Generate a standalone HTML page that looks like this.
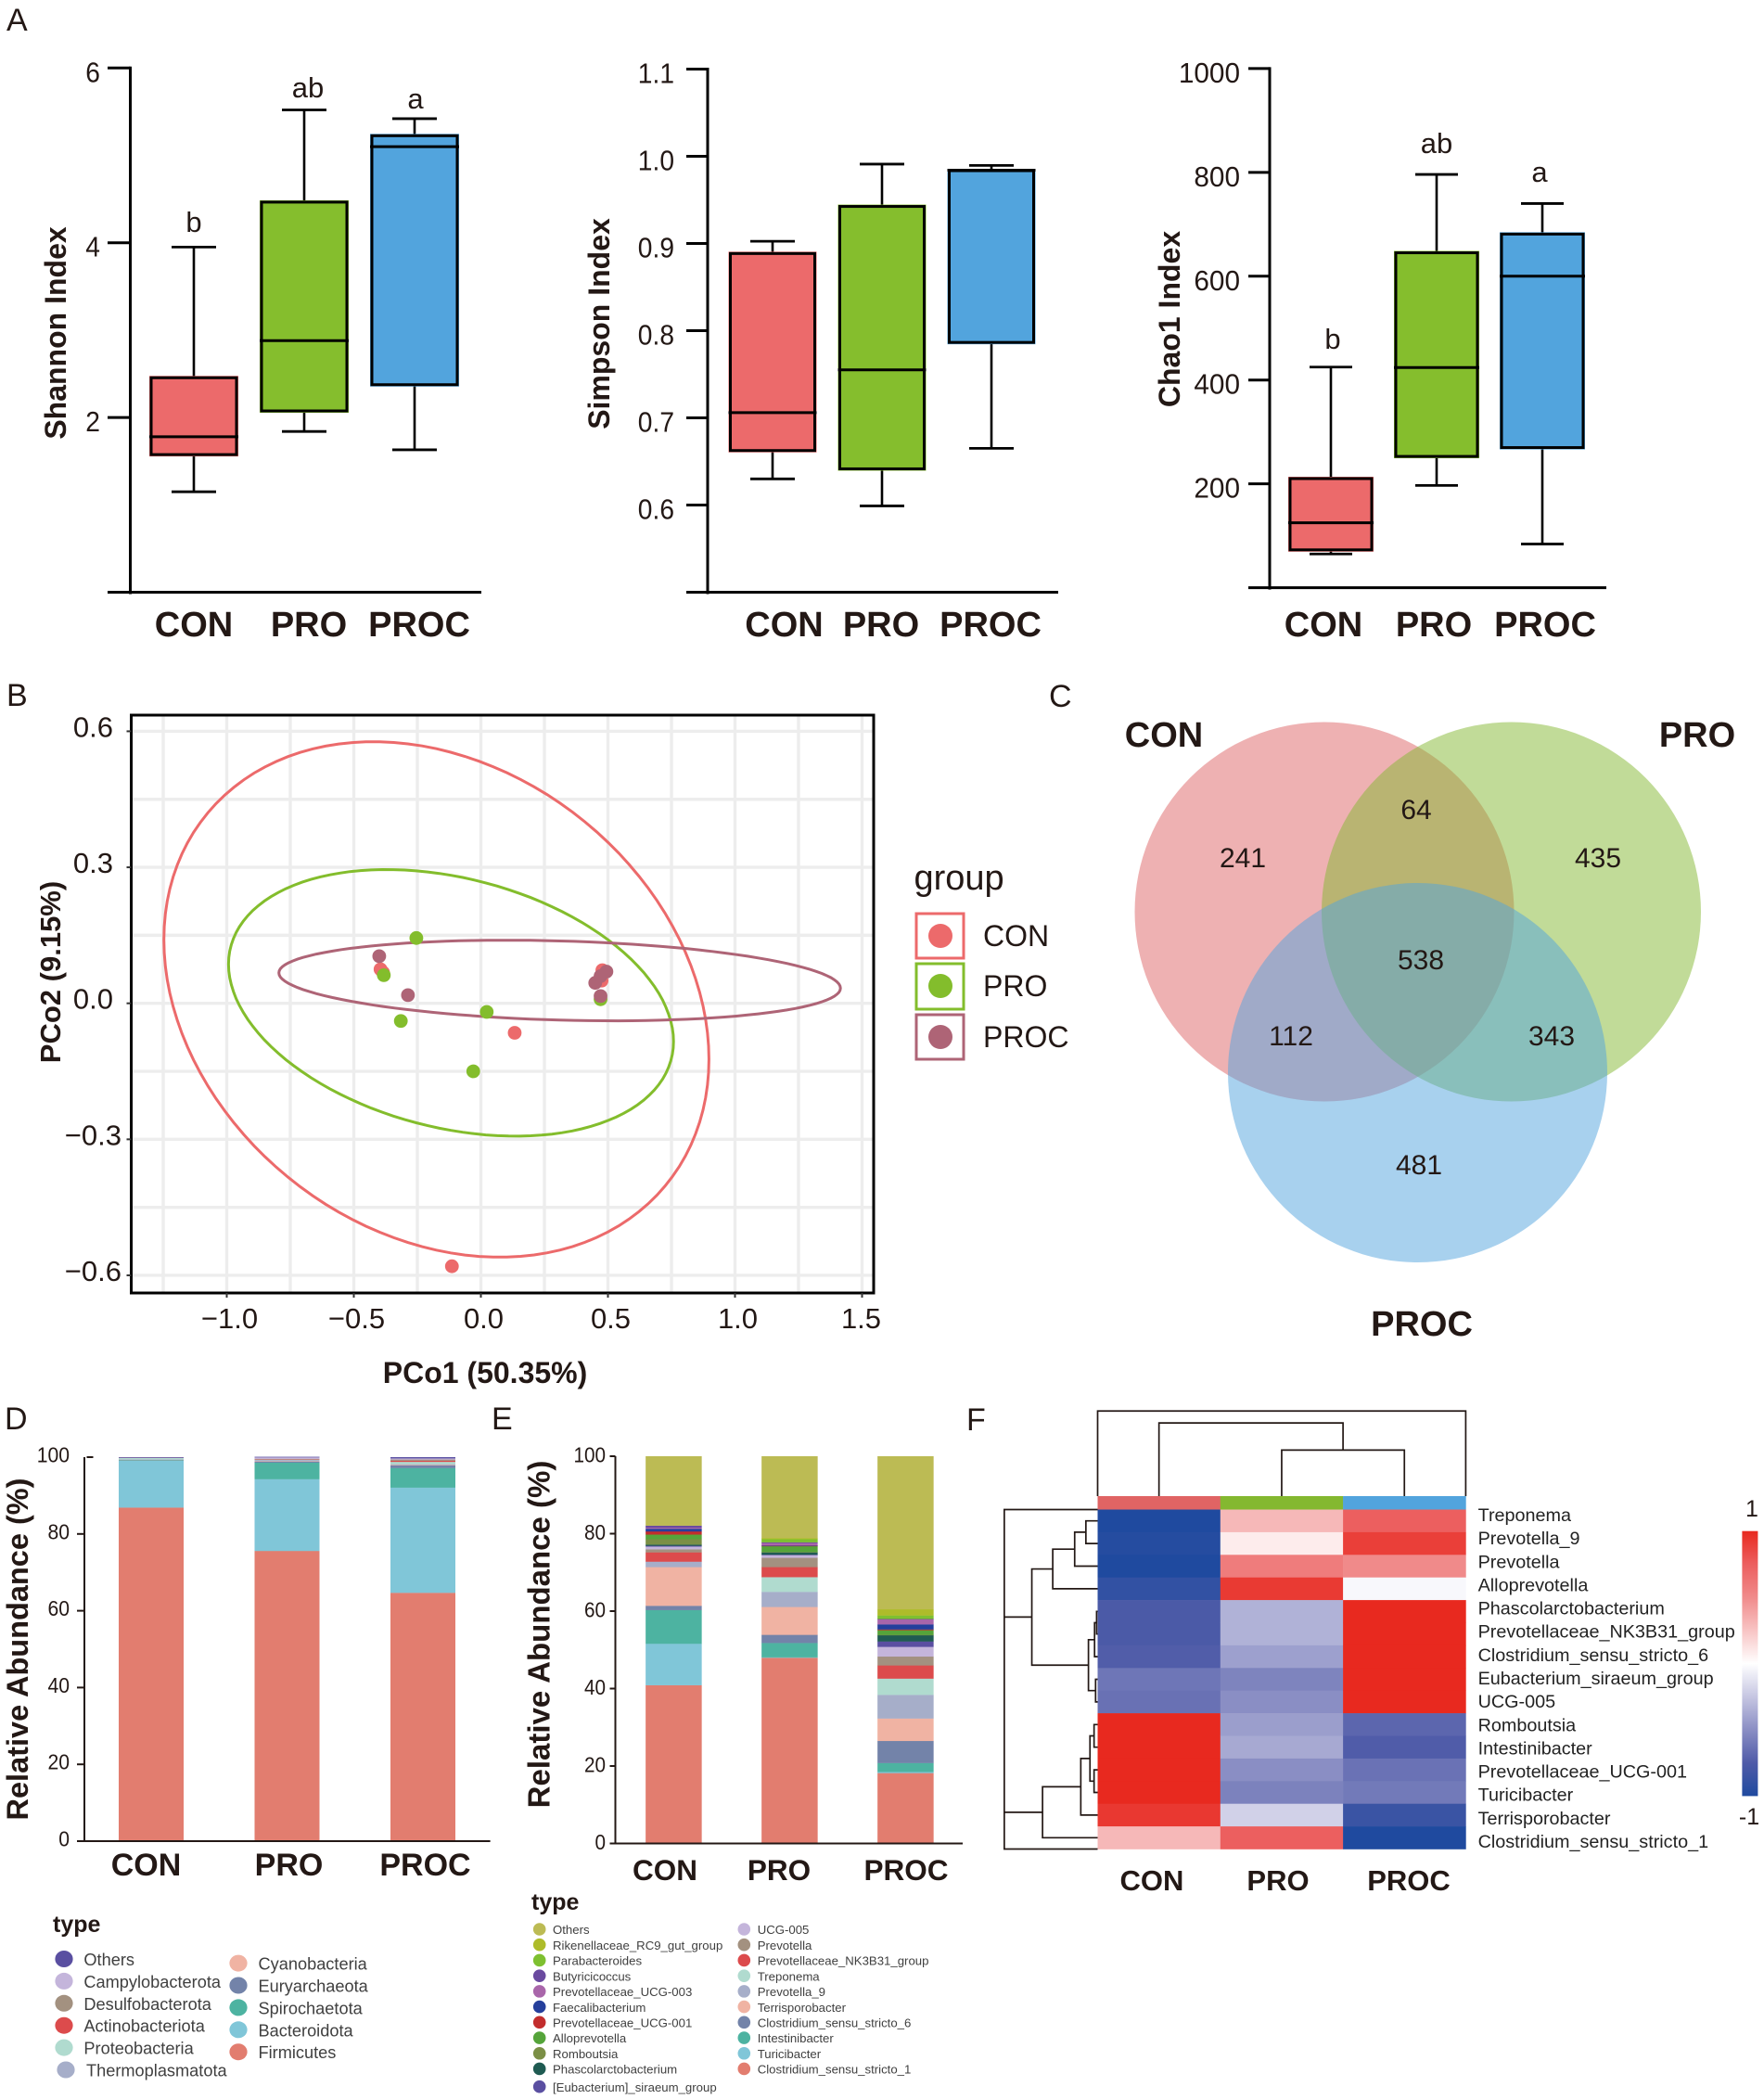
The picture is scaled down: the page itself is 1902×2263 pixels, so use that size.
<!DOCTYPE html>
<html lang="en">
<head>
<meta charset="utf-8">
<title>Gut microbiota diversity and composition figure</title>
<style>
html,body{margin:0;padding:0;background:#fff}
svg{display:block;font-family:"Liberation Sans",Arial,sans-serif}
text{fill:#231815}
</style>
</head>
<body>
<svg id="figure" xmlns="http://www.w3.org/2000/svg" width="1902" height="2263" viewBox="0 0 1902 2263">
<rect width="1902" height="2263" fill="#fff"/>

<g font-size="34">
<text x="7" y="33">A</text>
<text x="7" y="761">B</text>
<text x="1131" y="762">C</text>
<text x="5" y="1541">D</text>
<text x="530" y="1541">E</text>
<text x="1042" y="1542">F</text>
</g>

<g id="shannon">
<text transform="translate(71,359) rotate(-90)" text-anchor="middle" font-size="32" font-weight="bold">Shannon Index</text>
<g font-size="38" font-weight="bold" text-anchor="middle">
<text x="209" y="686">CON</text>
<text x="333" y="686">PRO</text>
<text x="452" y="686">PROC</text>
</g>
<g font-size="31" text-anchor="middle">
<text x="209" y="250">b</text>
<text x="332" y="105">ab</text>
<text x="448" y="117">a</text>
</g>
</g>

<g id="simpson">
<text transform="translate(657,349) rotate(-90)" text-anchor="middle" font-size="32" font-weight="bold">Simpson Index</text>
<g font-size="38" font-weight="bold" text-anchor="middle">
<text x="845.5" y="686">CON</text>
<text x="950" y="686">PRO</text>
<text x="1068" y="686">PROC</text>
</g>
</g>

<g id="chao">
<text transform="translate(1272,344) rotate(-90)" text-anchor="middle" font-size="32" font-weight="bold">Chao1 Index</text>
<g font-size="38" font-weight="bold" text-anchor="middle">
<text x="1427" y="686">CON</text>
<text x="1546" y="686">PRO</text>
<text x="1666" y="686">PROC</text>
</g>
<g font-size="31" text-anchor="middle">
<text x="1437" y="376">b</text>
<text x="1549" y="165">ab</text>
<text x="1660" y="196">a</text>
</g>
</g>

<g id="pcoa"></g>
<g font-weight="bold" text-anchor="middle">
<text x="523" y="1491" font-size="32">PCo1 (50.35%)</text>
<text transform="translate(65,1048) rotate(-90)" font-size="31">PCo2 (9.15%)</text>
</g>
<g>
<text x="985.5" y="959" font-size="38">group</text>
<rect x="988" y="985" width="51" height="48" fill="#fff" stroke="#ec6a6b" stroke-width="3"/>
<circle cx="1014" cy="1009" r="13" fill="#ec6a6b"/>
<text x="1060" y="1020" font-size="32">CON</text>
<rect x="988" y="1039" width="51" height="49" fill="#fff" stroke="#83bd2c" stroke-width="3"/>
<circle cx="1014" cy="1063" r="13" fill="#83bd2c"/>
<text x="1060" y="1074" font-size="32">PRO</text>
<rect x="988" y="1094" width="51" height="48" fill="#fff" stroke="#ae6476" stroke-width="3"/>
<circle cx="1014" cy="1118" r="13" fill="#ae6476"/>
<text x="1060" y="1129" font-size="32">PROC</text>
</g>

<g>
<circle cx="1428" cy="983" r="204.5" fill="#dd6366" fill-opacity="0.5"/>
<circle cx="1629.5" cy="983" r="204.5" fill="#83b732" fill-opacity="0.5"/>
<circle cx="1528.5" cy="1156.5" r="204.5" fill="#51a3dd" fill-opacity="0.5"/>
<g font-size="38" font-weight="bold" text-anchor="middle">
<text x="1255" y="805">CON</text>
<text x="1830" y="805">PRO</text>
<text x="1533" y="1440">PROC</text>
</g>
<g font-size="30" text-anchor="middle">
<text x="1340" y="935">241</text>
<text x="1527" y="883">64</text>
<text x="1723" y="935">435</text>
<text x="1532" y="1045">538</text>
<text x="1392" y="1127">112</text>
<text x="1673" y="1127">343</text>
<text x="1530" y="1266">481</text>
</g>
</g>

<g id="phylum">
<text transform="translate(30,1778) rotate(-90)" text-anchor="middle" font-size="32.5" font-weight="bold">Relative Abundance (%)</text>
<g font-size="34" font-weight="bold" text-anchor="middle">
<text x="157.5" y="2022">CON</text>
<text x="311.5" y="2022">PRO</text>
<text x="458.5" y="2022">PROC</text>
</g>
<text x="57" y="2083" font-size="25" font-weight="bold">type</text>
</g>

<g id="genus">
<text transform="translate(592.5,1762) rotate(-90)" text-anchor="middle" font-size="33" font-weight="bold">Relative Abundance (%)</text>
<g font-size="31.5" font-weight="bold" text-anchor="middle">
<text x="717" y="2027">CON</text>
<text x="840" y="2027">PRO</text>
<text x="977" y="2027">PROC</text>
</g>
<text x="573" y="2059" font-size="25" font-weight="bold">type</text>
</g>

<g id="heatmap">
<g font-size="31" font-weight="bold" text-anchor="middle">
<text x="1242" y="2038">CON</text>
<text x="1378" y="2038">PRO</text>
<text x="1519" y="2038">PROC</text>
</g>
<text x="1889" y="1635" font-size="25" text-anchor="middle">1</text>
<text x="1886" y="1967" font-size="25" text-anchor="middle">-1</text>
</g>
</svg>

<script>
/* ---------- boxplot data ---------- */
const boxGroups = ['con', 'pro', 'proc'];
const boxColors = ['#ec6a6b', '#85be2d', '#52a4dd'];
const shannonTicks = [2, 4, 6];
const shannonLow = [1.15, 1.84, 1.63];
const shannonQ1 = [1.57, 2.07, 2.37];
const shannonMedian = [1.78, 2.88, 5.10];
const shannonQ3 = [2.46, 4.47, 5.23];
const shannonHigh = [3.95, 5.52, 5.42];
const simpsonTicks = [0.6, 0.7, 0.8, 0.9, 1.0, 1.1];
const simpsonLow = [0.630, 0.599, 0.665];
const simpsonQ1 = [0.662, 0.641, 0.786];
const simpsonMedian = [0.706, 0.755, 0.984];
const simpsonQ3 = [0.889, 0.943, 0.984];
const simpsonHigh = [0.9025, 0.991, 0.9895];
const chaoTicks = [200, 400, 600, 800, 1000];
const chaoLow = [65, 197, 84];
const chaoQ1 = [72, 252, 269];
const chaoMedian = [125, 424, 600];
const chaoQ3 = [211, 646, 682];
const chaoHigh = [425, 796, 740];

/* ---------- PCoA data ---------- */
const pcoaXTicks = [-1, -0.5, 0, 0.5, 1, 1.5];
const pcoaYTicks = [-0.6, -0.3, 0, 0.3, 0.6];
const pcoaXMinor = [-1.25, -0.75, -0.25, 0.25, 0.75, 1.25];
const pcoaYMinor = [-0.45, -0.15, 0.15, 0.45];
const conX = [-0.395, -0.385, 0.133, -0.114, 0.478, 0.475];
const conY = [0.075, 0.068, -0.065, -0.58, 0.073, 0.05];
const proX = [-0.254, -0.382, -0.315, 0.023, -0.03, 0.471];
const proY = [0.144, 0.062, -0.039, -0.019, -0.15, 0.009];
const procX = [-0.40, -0.287, 0.45, 0.471, 0.494, 0.471];
const procY = [0.104, 0.018, 0.045, 0.016, 0.07, 0.06];
const ellipseCenterX = [-0.175, -0.1175, 0.31];
const ellipseCenterY = [0.0085, 0.001, 0.0503];
const ellipseHalfX = [1.0725, 0.8755, 1.105];
const ellipseHalfY = [0.5685, 0.294, 0.0889];
const ellipseCorr = [-0.232, -0.29, -0.19];

/* ---------- phylum stacked data (bottom to top) ---------- */
const phylumNames = ['Firmicutes', 'Bacteroidota', 'Spirochaetota', 'Euryarchaeota', 'Cyanobacteria', 'Thermoplasmatota', 'Proteobacteria', 'Actinobacteriota', 'Desulfobacterota', 'Campylobacterota', 'Others'];
const phylumColors = ['#e27d6f', '#80c6d8', '#4db3a1', '#7383a9', '#f0b3a3', '#a6aec9', '#b0dbcf', '#dc4b4c', '#a39180', '#c4b5db', '#5a4fa1'];
const phylumCon = [86.9, 12.2, 0.2, 0.05, 0.05, 0.05, 0.5, 0.02, 0.01, 0.01, 0.01];
const phylumPro = [75.6, 18.7, 4.3, 0.3, 0.1, 0.3, 0.1, 0.1, 0.1, 0.4, 0.1];
const phylumProc = [64.7, 27.4, 5.1, 0.7, 0.1, 0.2, 0.6, 0.3, 0.3, 0.3, 0.3];
const phylumTicks = [0, 20, 40, 60, 80, 100];

/* ---------- genus stacked data (bottom to top) ---------- */
const genusNames = ['Clostridium_sensu_stricto_1', 'Turicibacter', 'Intestinibacter', 'Clostridium_sensu_stricto_6', 'Terrisporobacter', 'Prevotella_9', 'Treponema', 'Prevotellaceae_NK3B31_group', 'Prevotella', 'UCG-005', '[Eubacterium]_siraeum_group', 'Phascolarctobacterium', 'Romboutsia', 'Alloprevotella', 'Prevotellaceae_UCG-001', 'Faecalibacterium', 'Prevotellaceae_UCG-003', 'Butyricicoccus', 'Parabacteroides', 'Rikenellaceae_RC9_gut_group', 'Others'];
const genusColors = ['#e27d6f', '#80c6d8', '#4db3a1', '#7383a9', '#f0b3a3', '#a6aec9', '#b0dbcf', '#dc4b4c', '#a39180', '#c4b5db', '#5a4fa1', '#1f5b52', '#7b8f46', '#55a43a', '#c22d2d', '#253f9c', '#a966aa', '#6a4a9f', '#7ec030', '#aebc2a', '#bcbb54'];
const genusCon = [40.9, 10.7, 8.7, 1.1, 10.0, 1.4, 0, 2.4, 0.8, 0.7, 0.2, 0.3, 1.4, 1.2, 0.8, 0.7, 0.3, 0.5, 0, 0, 17.9];
const genusPro = [48.0, 0.1, 3.7, 2.1, 7.2, 3.9, 3.8, 2.6, 2.4, 0.7, 0.1, 0.6, 0.1, 1.5, 0.1, 0.1, 0.6, 0.2, 0.8, 0.3, 21.1];
const genusProc = [18.2, 0.3, 2.3, 5.7, 5.8, 6.1, 4.2, 3.4, 2.3, 2.5, 1.4, 1.6, 0.1, 1.2, 0.2, 1.3, 1.3, 0.1, 0.9, 1.6, 39.5];
const genusTicks = [0, 20, 40, 60, 80, 100];

/* ---------- heatmap data ---------- */
const heatRows = ['Treponema', 'Prevotella_9', 'Prevotella', 'Alloprevotella', 'Phascolarctobacterium', 'Prevotellaceae_NK3B31_group', 'Clostridium_sensu_stricto_6', 'Eubacterium_siraeum_group', 'UCG-005', 'Romboutsia', 'Intestinibacter', 'Prevotellaceae_UCG-001', 'Turicibacter', 'Terrisporobacter', 'Clostridium_sensu_stricto_1'];
const heatCon = [-1, -0.97, -1, -0.9, -0.77, -0.77, -0.74, -0.62, -0.64, 1, 1, 1, 1, 0.93, 0.3];
const heatPro = [0.3, 0.08, 0.58, 0.92, -0.34, -0.34, -0.42, -0.55, -0.5, -0.43, -0.38, -0.5, -0.56, -0.2, 0.75];
const heatProc = [0.75, 0.9, 0.5, -0.03, 1, 1, 1, 1, 1, -0.695, -0.745, -0.635, -0.6, -0.86, -1];
const heatStopValues = [-1, -0.75, -0.5, -0.25, 0, 0.25, 0.5, 0.75, 1];
const heatStopColors = ['#1f4a9f', '#4f5ba8', '#8a8ec4', '#c6c6e2', '#ffffff', '#f8c4c4', '#f08a8a', '#ec5f5f', '#e8291f'];
const annotationColors = ['#e06464', '#84b830', '#52a4dd'];
const rowTree = [183, [129, [88, [45, [23, 0, 1], 2], 3], [18, [6, [2, 4, 5], 6], [4, 7, 8]]], [108, [33, [15, [7, 9, 10], [7, 11, 12]], 13], 14]];
const colTree = [221, 0, [139, 1, 2]];

/* ---------- helpers ---------- */
const NS = 'http://www.w3.org/2000/svg';
function el(tag, parent, attrs) {
  const e = document.createElementNS(NS, tag);
  for (const k in attrs) e.setAttribute(k, attrs[k]);
  parent.appendChild(e);
  return e;
}
function label(parent, x, y, str, size, anchor, fill) {
  const t = el('text', parent, { x: x, y: y, 'font-size': size, 'text-anchor': anchor || 'start' });
  if (fill) t.style.fill = fill;
  t.textContent = str;
  return t;
}
function squeezedLabel(parent, x, y, str, size, sx) {
  const t = el('text', parent, { transform: 'translate(' + x + ',' + y + ') scale(' + sx + ',1)', 'font-size': size, 'text-anchor': 'end' });
  t.textContent = str;
  return t;
}
function hexRgb(h) {
  return [parseInt(h.substr(1, 2), 16), parseInt(h.substr(3, 2), 16), parseInt(h.substr(5, 2), 16)];
}
function heatColor(v) {
  let i = 0;
  while (i < heatStopValues.length - 2 && v > heatStopValues[i + 1]) i++;
  const a = hexRgb(heatStopColors[i]), b = hexRgb(heatStopColors[i + 1]);
  const t = (v - heatStopValues[i]) / (heatStopValues[i + 1] - heatStopValues[i]);
  return 'rgb(' + a.map((c, k) => Math.round(c + (b[k] - c) * t)).join(',') + ')';
}

/* ---------- boxplots ---------- */
function drawBoxplot(id, prefix, cfg, ticks, tickLabels, low, q1, med, q3, high) {
  const root = document.getElementById(id);
  const y = v => cfg.y0 - (v - cfg.min) * cfg.k;
  const x = i => cfg.x0 + i * cfg.step;
  const xAxis = el('line', root, { x1: cfg.axisL, x2: cfg.axisR, y1: y(cfg.min), y2: y(cfg.min), stroke: '#000', 'stroke-width': 3 });
  
  
  const yAxis = el('line', root, { x1: cfg.axisX, x2: cfg.axisX, y1: y(ticks[ticks.length - 1]) - 1.5, y2: y(cfg.min) + 2, stroke: '#000', 'stroke-width': 3 });
  
  
  ticks.forEach((t, i) => {
    const m = el('line', root, { x1: cfg.axisL, x2: cfg.axisX, y1: y(t), y2: y(t), stroke: '#000', 'stroke-width': 3 });
    
    
    const l = squeezedLabel(root, cfg.labelR, y(t) + 15, tickLabels[i], cfg.tickSize, cfg.tickSx);
    
    
  });
  boxGroups.forEach((g, i) => {
    const cx = x(i), w = cfg.w;
    const box = el('g', root, {});
    
    
    el('line', box, { x1: cx, x2: cx, y1: y(high[i]), y2: y(low[i]), stroke: '#000', 'stroke-width': 2.6 });
    el('line', box, { x1: cx - cfg.cap, x2: cx + cfg.cap, y1: y(high[i]), y2: y(high[i]), stroke: '#000', 'stroke-width': 2.8 });
    el('line', box, { x1: cx - cfg.cap, x2: cx + cfg.cap, y1: y(low[i]), y2: y(low[i]), stroke: '#000', 'stroke-width': 2.8 });
    el('rect', box, { x: cx - w / 2, y: y(q3[i]) - 1.5, width: w, height: y(q1[i]) - y(q3[i]) + 3, fill: boxColors[i] });
    el('rect', box, { x: cx - w / 2 + 2, y: y(q3[i]) + 0.5, width: w - 4, height: y(q1[i]) - y(q3[i]) - 1, fill: 'none', stroke: '#000', 'stroke-width': 3 });
    el('line', box, { x1: cx - w / 2, x2: cx + w / 2, y1: y(med[i]), y2: y(med[i]), stroke: '#000', 'stroke-width': 3 });
  });
}
drawBoxplot('shannon', 'shannon', { y0: 638.5, min: 0, k: 94.2, x0: 209, step: 119, w: 96, cap: 24, axisX: 140.5, axisL: 116, axisR: 519, labelR: 108, tickSize: 31, tickSx: 0.91 },
  shannonTicks, shannonTicks.map(String), shannonLow, shannonQ1, shannonMedian, shannonQ3, shannonHigh);
drawBoxplot('simpson', 'simpson', { y0: 638.5, min: 0.5, k: 940, x0: 833, step: 118, w: 95, cap: 24, axisX: 763, axisL: 740, axisR: 1141, labelR: 727, tickSize: 31, tickSx: 0.91 },
  simpsonTicks, simpsonTicks.map(v => v.toFixed(1)), simpsonLow, simpsonQ1, simpsonMedian, simpsonQ3, simpsonHigh);
drawBoxplot('chao', 'chao1', { y0: 633.6, min: 0, k: 0.5597, x0: 1435, step: 114, w: 92, cap: 23, axisX: 1369, axisL: 1346, axisR: 1732, labelR: 1337, tickSize: 31, tickSx: 0.96 },
  chaoTicks, chaoTicks.map(String), chaoLow, chaoQ1, chaoMedian, chaoQ3, chaoHigh);

/* ---------- PCoA ---------- */
(function () {
  const root = document.getElementById('pcoa');
  const px = v => 518.5 + 274 * v;
  const py = v => 1081.7 - 488.8 * v;
  const L = 141.5, R = 942, T = 771, B = 1394;
  pcoaXMinor.concat(pcoaXTicks).forEach(v => {
    const g = el('line', root, { x1: px(v), x2: px(v), y1: T, y2: B, stroke: '#ededed', 'stroke-width': 3.4 });
    
    
  });
  pcoaYMinor.concat(pcoaYTicks).forEach(v => {
    const g = el('line', root, { x1: L, x2: R, y1: py(v), y2: py(v), stroke: '#ededed', 'stroke-width': 3.4 });
    
    
  });
  const colors = ['#ec6a6b', '#83bd2c', '#ae6476'];
  const names = ['con', 'pro', 'proc'];
  names.forEach((n, i) => {
    const pts = [];
    const delta = Math.acos(ellipseCorr[i]);
    for (let s = 0; s < 120; s++) {
      const t = s / 120 * 2 * Math.PI;
      const dx = ellipseCenterX[i] + ellipseHalfX[i] * Math.cos(t);
      const dy = ellipseCenterY[i] + ellipseHalfY[i] * Math.cos(t - delta);
      pts.push(px(dx).toFixed(1) + ',' + py(dy).toFixed(1));
    }
    const e = el('polygon', root, { points: pts.join(' '), fill: 'none', stroke: colors[i], 'stroke-width': 3 });
    
    
  });
  [[conX, conY], [proX, proY], [procX, procY]].forEach((s, i) => {
    s[0].forEach((v, j) => {
      const c = el('circle', root, { cx: px(v), cy: py(s[1][j]), r: 7.4, fill: colors[i] });
      
      
    });
  });
  const frame = el('rect', root, { x: L, y: T, width: R - L, height: B - T, fill: 'none', stroke: '#000', 'stroke-width': 3 });
  
  
  const fmt = v => (v < 0 ? '\u2212' : '') + Math.abs(v).toFixed(1);
  pcoaXTicks.forEach(v => {
    const m = el('line', root, { x1: px(v), x2: px(v), y1: B, y2: B + 5, stroke: '#333', 'stroke-width': 2 });
    
    
    const l = label(root, px(v) + (v === 1.5 ? -1 : 3), 1432, fmt(v), 31, 'middle');
    
    
  });
  pcoaYTicks.forEach(v => {
    const m = el('line', root, { x1: L - 5, x2: L, y1: py(v), y2: py(v), stroke: '#333', 'stroke-width': 2 });
    
    
    const l = label(root, v < 0 ? 131 : 122, py(v) + 6, fmt(v), 31, 'end');
    
    
  });
})();

/* ---------- stacked bars ---------- */
function drawStack(id, prefix, cfg, ticks, groups, colors) {
  const root = document.getElementById(id);
  const y = v => cfg.y0 - v * cfg.k;
  const x = i => cfg.x0 + i * cfg.step;
  groups.forEach((vals, g) => {
    let acc = 0;
    vals.forEach((v, s) => {
      if (v <= 0) return;
      const r = el('rect', root, { x: x(g) - cfg.w / 2, y: y(acc + v), width: cfg.w, height: Math.max(v * cfg.k, 0.5) + 0.2, fill: colors[s] });
      
      
      acc += v;
    });
  });
  const xa = el('line', root, { x1: cfg.axisL, x2: cfg.axisR, y1: y(0), y2: y(0), stroke: '#231815', 'stroke-width': 2 });
  
  
  const ya = el('line', root, { x1: cfg.axisX, x2: cfg.axisX, y1: y(100), y2: y(0), stroke: '#231815', 'stroke-width': 2 });
  
  
  ticks.forEach(t => {
    const inward = cfg.topTickInside && t === 100;
    const m = el('line', root, { x1: inward ? cfg.axisX + 2.5 : cfg.axisL, x2: inward ? cfg.axisX + 9.5 : cfg.axisX, y1: y(t), y2: y(t), stroke: '#231815', 'stroke-width': 2 });
    
    
    const l = squeezedLabel(root, cfg.labelR, y(t) + cfg.labelDy, String(t), 23, cfg.tickSx);
    
    
  });
}
drawStack('phylum', 'phylum', { y0: 1985, k: 4.14, x0: 163, step: 146.5, w: 70, axisX: 91, axisL: 83, axisR: 528.6, labelR: 75, labelDy: 5.5, tickSx: 0.92, topTickInside: true },
  phylumTicks, [phylumCon, phylumPro, phylumProc], phylumColors);
drawStack('genus', 'genus', { y0: 1987.5, k: 4.175, x0: 726.4, step: 125, w: 60.5, axisX: 663.5, axisL: 657.5, axisR: 1038, labelR: 653, labelDy: 6.5, tickSx: 0.9 },
  genusTicks, [genusCon, genusPro, genusProc], genusColors);

/* ---------- legends ---------- */
function drawLegend(id, prefix, names, colors, split, cfg) {
  const root = document.getElementById(id);
  const rev = names.map((n, i) => i).reverse();
  rev.forEach((s, i) => {
    const col2 = i >= split;
    const r = col2 ? i - split : i;
    let cx = col2 ? cfg.c2 : cfg.c1;
    let cy = (col2 ? cfg.y2 : cfg.y1) + r * cfg.step;
    let tx = col2 ? cfg.t2 : cfg.t1;
    if (names[s] === 'Thermoplasmatota') { cx += 2; tx += 2.6; }
    if (names[s] === '[Eubacterium]_siraeum_group') { cy += 2.5; }
    const dot = el('ellipse', root, { cx: cx, cy: cy, rx: cfg.rx, ry: cfg.ry, fill: colors[s] });
    
    
    const t = label(root, tx, cy + cfg.dy, names[s], cfg.size, 'start', '#404040');
    
    
  });
}
drawLegend('phylum', 'phylum', phylumNames, phylumColors, 6, { c1: 69, c2: 257, t1: 90.4, t2: 278.5, y1: 2112, y2: 2116.6, step: 23.9, rx: 9.6, ry: 9, dy: 7, size: 18.2 });
drawLegend('genus', 'genus', genusNames, genusColors, 11, { c1: 581.7, c2: 802.3, t1: 596, t2: 816.7, y1: 2080, y2: 2080, step: 16.72, rx: 6.8, ry: 6.8, dy: 5.2, size: 13.2 });

/* ---------- heatmap ---------- */
(function () {
  const root = document.getElementById('heatmap');
  const left = 1183.5, colW = 132.3, top = 1627.5, rowH = 24.4, annotTop = 1613;
  const colX = i => left + i * colW;
  const rowY = i => top + i * rowH;
  const cols = [heatCon, heatPro, heatProc];
  cols.forEach((vals, c) => {
    const a = el('rect', root, { x: colX(c), y: annotTop, width: colW + 0.3, height: top - annotTop, fill: annotationColors[c] });
    
    
    vals.forEach((v, r) => {
      const cell = el('rect', root, { x: colX(c), y: rowY(r), width: colW + 0.3, height: rowH + 0.3, fill: heatColor(v) });
      
      
    });
  });
  heatRows.forEach((n, r) => {
    const t = label(root, 1593.6, 1640 + r * 25.14, n, 19.8, 'start', '#222');
    
    
  });
  /* dendrograms: merge heights live in rowTree / colTree */
  const hx = h => left - h * 0.55;
  const vy = h => annotTop - h * 0.357;
  function walk(node, leafPos, path, horizontal) {
    if (typeof node === 'number') return { p: leafPos(node), h: 0 };
    const a = walk(node[1], leafPos, path, horizontal);
    const b = walk(node[2], leafPos, path, horizontal);
    const h = node[0];
    if (horizontal) {
      path.push('M' + hx(a.h) + ' ' + a.p + 'H' + hx(h) + 'V' + b.p + 'H' + hx(b.h));
    } else {
      path.push('M' + a.p + ' ' + vy(a.h) + 'V' + vy(h) + 'H' + b.p + 'V' + vy(b.h));
    }
    return { p: (a.p + b.p) / 2, h: h };
  }
  const rowPath = [];
  walk(rowTree, i => rowY(i) + rowH / 2, rowPath, true);
  rowPath.push('M' + left + ' ' + rowY(0) + 'H' + hx(rowTree[0]) + 'V' + rowY(15) + 'H' + left);
  const rowDend = el('path', root, { d: rowPath.join(''), fill: 'none', stroke: '#231815', 'stroke-width': 1.7 });
  
  
  const colPath = [];
  walk(colTree, i => colX(i) + colW / 2, colPath, false);
  colPath.push('M' + left + ' ' + annotTop + 'V' + vy(257) + 'H' + colX(3) + 'V' + annotTop);
  const colDend = el('path', root, { d: colPath.join(''), fill: 'none', stroke: '#231815', 'stroke-width': 1.7 });
  
  
  /* colour bar */
  const defs = el('defs', root, {});
  const grad = el('linearGradient', defs, { id: 'heat-grad', x1: 0, y1: 1, x2: 0, y2: 0 });
  heatStopValues.forEach((v, i) => {
    el('stop', grad, { offset: (v + 1) / 2, 'stop-color': heatStopColors[i] });
  });
  const bar = el('rect', root, { x: 1878.4, y: 1650.7, width: 17, height: 285.7, fill: 'url(#heat-grad)' });
  
  
})();
</script>
</body>
</html>
